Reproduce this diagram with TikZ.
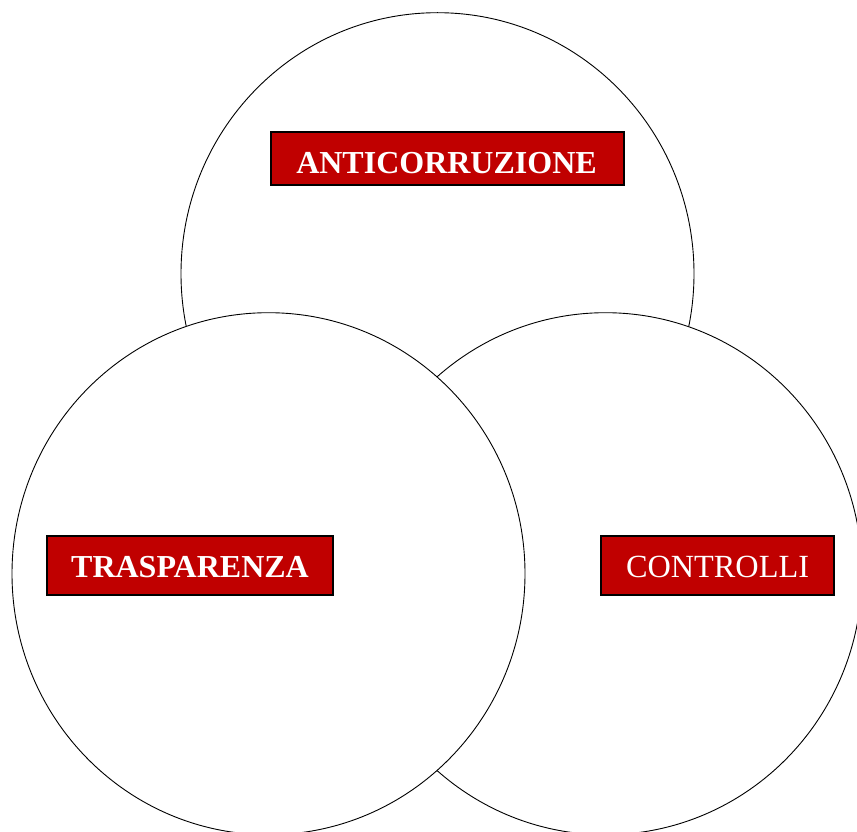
\documentclass[tikz,border=0pt]{standalone}
\usepackage{fontspec}
\setmainfont{Liberation Serif}
\definecolor{boxred}{HTML}{C00000}
\begin{document}
\begin{tikzpicture}[x=1pt,y=-1pt,
  ring/.style={draw=black,fill=white,line width=0.9pt},
  redbox/.style={draw=black,fill=boxred,line width=1.8pt,inner sep=0pt},
  lbl/.style={text=white,inner sep=0pt,font=\fontsize{32}{36}\selectfont}]
\useasboundingbox (0,0) rectangle (857,832);
\begin{scope}
\clip (0,0) rectangle (857,832);
\draw[ring] (437.5,273.7) ellipse [x radius=256.5, y radius=261];
\draw[ring] (605.5,573.7) ellipse [x radius=256.5, y radius=261];
\draw[ring] (268.5,573.7) ellipse [x radius=256.5, y radius=261];
\end{scope}
\node[redbox,minimum width=353,minimum height=53] (b1) at (447.5,158.3) {};
\node[redbox,minimum width=286,minimum height=59] (b2) at (190.3,565.5) {};
\node[redbox,minimum width=233,minimum height=59] (b3) at (717.5,565.5) {};
\node[lbl,anchor=base,font=\fontsize{32}{36}\selectfont\bfseries] (t1) at (446.5,173.3) {ANTICORRUZIONE};
\node[lbl,anchor=base,font=\fontsize{32}{36}\selectfont\bfseries] (t2) at (190,577.3) {TRASPARENZA};
\node[lbl,anchor=base,font=\fontsize{32.3}{36}\selectfont] (t3) at (717.5,577.3) {CONTROLLI};
\end{tikzpicture}
\end{document}
